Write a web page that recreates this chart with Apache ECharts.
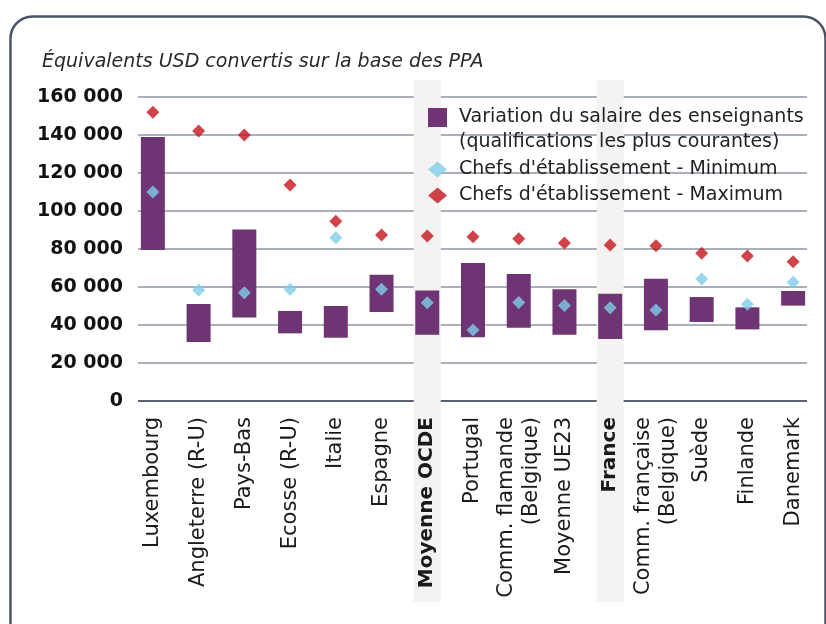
<!DOCTYPE html>
<html>
<head>
<meta charset="utf-8">
<script src="https://cdn.jsdelivr.net/npm/echarts@6/dist/echarts.min.js"></script>
<style>
  html, body { margin: 0; padding: 0; background: #fff; }
  #chart { width: 826px; height: 624px; }
</style>
</head>
<body>
<div id="chart"></div>
<script>
// categories (pays / moyennes)
const categories = ['Luxembourg', 'Angleterre (R-U)', 'Pays-Bas', 'Ecosse (R-U)', 'Italie', 'Espagne',
  'Moyenne OCDE', 'Portugal', 'Comm. flamande\n(Belgique)', 'Moyenne UE23', 'France',
  'Comm. française\n(Belgique)', 'Suède', 'Finlande', 'Danemark'];
// salaire des enseignants : bas et haut de la fourchette
const salaireBas = [79500, 31000, 44000, 35600, 33300, 46800, 34900, 33500, 38600, 34900, 32600, 37200, 41600, 37700, 50200];
const salaireHaut = [139000, 51000, 90200, 47400, 50000, 66500, 58100, 72600, 66800, 58800, 56500, 64400, 54700, 49300, 57900];
// chefs d'établissement
const chefMin = [110000, 58400, 57000, 58800, 85900, 58800, 51700, 37400, 51900, 50200, 49100, 47900, 64200, 50900, 62500];
const chefMax = [152000, 142100, 140000, 113700, 94600, 87400, 86800, 86500, 85400, 83200, 82100, 81700, 77700, 76300, 73300];
const highlighted = ['Moyenne OCDE', 'France'];
const yTicks = [0, 20000, 40000, 60000, 80000, 100000, 120000, 140000, 160000];

const NAME_BAR = 'Variation du salaire des enseignants';
const NAME_MIN = "Chefs d'établissement - Minimum";
const NAME_MAX = "Chefs d'établissement - Maximum";

const font = "'DejaVu Sans', sans-serif";
const fmt = v => String(v).replace(/\B(?=(\d{3})+(?!\d))/g, ' ');

const chart = echarts.init(document.getElementById('chart'));

const option = {
  animation: false,
  textStyle: { fontFamily: font },
  title: {
    text: 'Équivalents USD convertis sur la base des PPA',
    left: 37, top: 48,
    textStyle: { fontFamily: font, fontStyle: 'italic', fontWeight: 'normal', fontSize: 19, color: '#2a2a2a' }
  },
  graphic: [{
    type: 'rect', left: 8, top: 14, silent: true,
    shape: { width: 815, height: 700, r: 22 },
    style: { fill: 'none', stroke: '#4b5365', lineWidth: 2.5 }
  }],
  legend: [{
    data: [NAME_BAR],
    left: 428, top: 83, padding: 0,
    itemWidth: 19, itemHeight: 19, icon: 'rect',
    // ligne vide en tête pour aligner l'icône sur la première ligne
    formatter: n => '{s| }\n{t|' + n + '}\n{t|(qualifications les plus courantes)}',
    textStyle: {
      fontSize: 19, color: '#222', padding: [0, 0, 0, 7],
      rich: {
        s: { fontSize: 19, lineHeight: 25 },
        t: { fontSize: 19, lineHeight: 25, color: '#222' }
      }
    }
  }, {
    data: [NAME_MIN, NAME_MAX],
    orient: 'vertical',
    left: 428, top: 160, padding: 0, itemGap: 7,
    itemWidth: 19, itemHeight: 16, icon: 'diamond',
    textStyle: { fontSize: 19, color: '#222', lineHeight: 16, padding: [0, 0, 0, 7] }
  }],
  grid: [
    { left: 138, right: 19, top: 97, bottom: 223 },
    { left: 130, right: 10, top: 97, bottom: 223 },
    { left: 130, right: 10, top: 80, bottom: 22 }
  ],
  xAxis: [{
    gridIndex: 0, type: 'category', data: categories, show: false
  }, {
    gridIndex: 1, type: 'category', data: categories,
    axisLine: { show: false }, axisTick: { show: false },
    axisLabel: {
      rotate: 90, margin: 16, interval: 0,
      fontSize: 21, color: '#1a1a1a', lineHeight: 25,
      formatter: v => highlighted.includes(v) ? '{b|' + v + '}' : v,
      rich: { b: { fontWeight: 'bold', fontSize: 20, color: '#1a1a1a' } }
    }
  }, {
    gridIndex: 2, type: 'category', data: categories, show: false
  }],
  yAxis: [{
    gridIndex: 0, type: 'value', min: 0, max: 160000, interval: 20000,
    axisLine: { show: false }, axisTick: { show: false },
    axisLabel: { margin: 15, fontSize: 19, fontWeight: 'bold', color: '#111', formatter: fmt },
    splitLine: {
      lineStyle: {
        width: 2,
        color: yTicks.map(t => t === 0 ? '#5a6272' : '#aab0bb')
      }
    }
  }, {
    gridIndex: 1, type: 'value', min: 0, max: 160000, show: false
  }, {
    gridIndex: 2, type: 'value', min: 0, max: 1, show: false
  }],
  series: [{
    name: 'bande', type: 'bar', xAxisIndex: 2, yAxisIndex: 2, silent: true, z: 0,
    barWidth: 27,
    itemStyle: { color: '#f4f3f1' },
    data: categories.map(c => highlighted.includes(c) ? 1 : '-')
  }, {
    name: 'base', type: 'bar', xAxisIndex: 1, yAxisIndex: 1, stack: 'sal', silent: true,
    barWidth: 24,
    itemStyle: { color: 'transparent' },
    data: salaireBas
  }, {
    name: NAME_BAR, type: 'bar', xAxisIndex: 1, yAxisIndex: 1, stack: 'sal',
    barWidth: 24,
    itemStyle: { color: '#6e3473' },
    data: salaireHaut.map((h, i) => h - salaireBas[i])
  }, {
    name: NAME_MIN, type: 'scatter', xAxisIndex: 1, yAxisIndex: 1, z: 5,
    symbol: 'diamond', symbolSize: 13,
    itemStyle: { color: '#7fcde8' },
    data: chefMin
  }, {
    name: NAME_MAX, type: 'scatter', xAxisIndex: 1, yAxisIndex: 1, z: 5,
    symbol: 'diamond', symbolSize: 13,
    itemStyle: { color: '#c4141c' },
    data: chefMax
  }]
};

chart.setOption(option);
</script>
</body>
</html>
